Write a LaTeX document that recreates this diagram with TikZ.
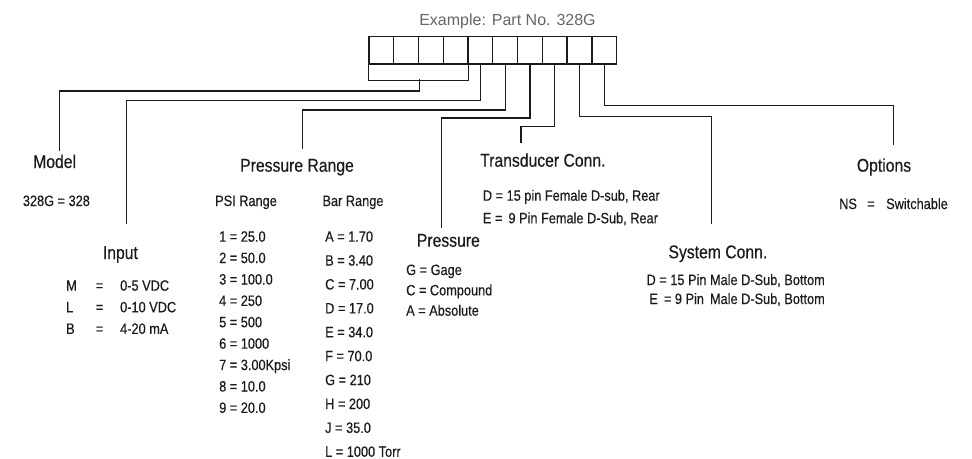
\documentclass[tikz,border=0pt]{standalone}
\usepackage{fontspec}
\setmainfont[FakeStretch=0.85,FakeBold=0.35]{Liberation Sans}
\newfontfamily\titlefont{Liberation Sans}
\definecolor{ink}{HTML}{1C1A1B}
\definecolor{titlegray}{HTML}{646567}
\begin{document}
\begin{tikzpicture}[x=1pt,y=-1pt,
  cell/.style={draw=ink,line width=1.3pt,minimum width=24.77pt,minimum height=27.3pt,inner sep=0pt,anchor=north west},
  conn/.style={draw=ink,line width=1.2pt},
  head/.style={inner sep=0pt,anchor=base west,text=ink,font=\fontsize{18.5}{20}\selectfont},
  item/.style={inner sep=0pt,anchor=base west,text=ink,font=\fontsize{15}{17}\selectfont},
  itemr/.style={item,anchor=base east}]
\useasboundingbox (0,0) rectangle (972,458);

% title and code boxes
\node[inner sep=0pt,anchor=base,text=titlegray,font=\titlefont\fontsize{16}{18}\selectfont] (title) at (507.5,25) {Example: Part No. 328G};
\foreach \i in {1,...,10} \node[cell] (b\i) at ({368.3+24.77*(\i-1)},36) {};

% line end points
\coordinate (brk) at (419.3,79);
\coordinate (modE) at (59.3,150.7);
\coordinate (inE) at (126.7,224.3);
\coordinate (prE) at (302.7,149.3);
\coordinate (psE) at (441.5,228);
\coordinate (tcE) at (521,143.3);
\coordinate (scE) at (711.7,224.3);
\coordinate (opE) at (893.3,145);

% connectors
\draw[conn] (b1.south west) -- ++(0,15.7) -| (b4.south east);
\draw[conn] (brk) -- ++(0,12) -| (modE);
\draw[conn] (b5.south) -- ++(0,36) -| (inE);
\draw[conn] (b6.south) -- ++(0,45.4) -| (prE);
\draw[conn] (b7.south) -- ++(0,53.4) -| (psE);
\draw[conn] (b8.south) -- ++(0,61.7) -| (tcE);
\draw[conn] (b9.south) -- ++(0,51.7) -| (scE);
\draw[conn] (b10.south) -- ++(0,40.7) -| (opE);

% Model
\node[head] (model) at (33,168) {Model};
\node[item] (modelv) at (22.7,206) {328G = 328};

% Input
\node[head] (input) at (102.7,259) {Input};
\foreach \k/\v [count=\n from 0] in {M/0-5 VDC,L/0-10 VDC,B/4-20 mA}
  \node[item] (in\n) at (66,{290.7+21.6*\n}) {\makebox[29.7pt][l]{\k}\makebox[24.3pt][l]{=}\v};

% Pressure Range
\node[head] (prange) at (240,171.7) {Pressure Range};
\node[item] (psih) at (215,206) {PSI Range};
\node[item] (barh) at (322.3,206) {Bar Range};
\foreach \v [count=\n from 0] in {1 = 25.0,2 = 50.0,3 = 100.0,4 = 250,5 = 500,6 = 1000,7 = 3.00Kpsi,8 = 10.0,9 = 20.0}
  \node[item] (psi\n) at (219,{241.7+21.4*\n}) {\v};
\foreach \v [count=\n from 0] in {A = 1.70,B = 3.40,C = 7.00,D = 17.0,E = 34.0,F = 70.0,G = 210,H = 200,J = 35.0,L = 1000 Torr}
  \node[item] (bar\n) at (325,{241.7+23.9*\n}) {\v};

% Pressure
\node[head] (press) at (416.7,246.7) {Pressure};
\foreach \v [count=\n from 0] in {G = Gage,C = Compound,A = Absolute}
  \node[item] (pt\n) at (406,{275+20.35*\n}) {\v};

% Transducer Conn.
\node[head] (tconn) at (480,166.7) {Transducer Conn.};
\node[item] (tc0) at (482.7,200.7) {D = 15 pin Female D-sub, Rear};
\node[item] (tc1) at (482.7,223.3) {E = \,9 Pin Female D-Sub, Rear};

% System Conn.
\node[head] (sconn) at (668.3,258.3) {System Conn.};
\node[itemr] (sc0) at (825,285) {D = 15 Pin Male D-Sub, Bottom};
\node[itemr] (sc1) at (825,304) {E \,= 9 Pin \,Male D-Sub, Bottom};

% Options
\node[head] (opt) at (856.7,171.7) {Options};
\node[item] (ns) at (839,209) {\makebox[28pt][l]{NS}\makebox[19pt][l]{=}Switchable};
\end{tikzpicture}
\end{document}
